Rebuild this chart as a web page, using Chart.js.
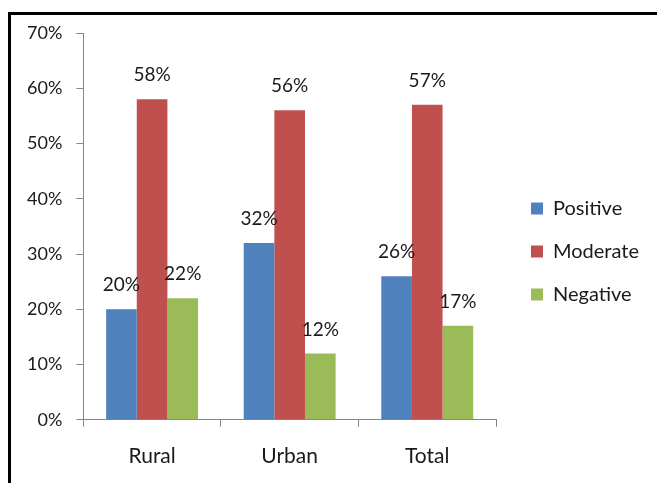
<!DOCTYPE html>
<html>
<head>
<meta charset="utf-8">
<script src="https://cdn.jsdelivr.net/npm/chart.js@4"></script>
<style>
    html, body { margin: 0; padding: 0; background: #fff; }
    #wrap { position: relative; width: 657px; height: 483px; overflow: hidden; }
    #frame {
        position: absolute; left: 8px; top: 12px; right: -10px; bottom: -10px;
        border-top: 3px solid #000; border-left: 3px solid #000;
    }
    #chart { position: absolute; left: 0; top: 0; }
</style>
</head>
<body>
<div id="wrap">
    <div id="frame"></div>
    <canvas id="chart" width="657" height="483"></canvas>
</div>
<script>
// ── Data ─────────────────────────────────────────────────────────────────
var categories = ['Rural', 'Urban', 'Total'];
var positive   = [20, 32, 26];
var moderate   = [58, 56, 57];
var negative   = [22, 12, 17];
var seriesNames  = ['Positive', 'Moderate', 'Negative'];
var seriesColors = ['#4F81BD', '#C0504D', '#9BBB59'];
var yTicks     = [0, 10, 20, 30, 40, 50, 60, 70];

var FONT = 'Lato, sans-serif';
var TEXT = '#1a1a1a';

// Value labels above each bar
var barLabels = {
    id: 'barLabels',
    afterDatasetsDraw: function(chart) {
        var ctx = chart.ctx;
        ctx.save();
        ctx.font = '19px ' + FONT;
        ctx.fillStyle = TEXT;
        ctx.textAlign = 'center';
        ctx.textBaseline = 'middle';
        chart.data.datasets.forEach(function(ds, i) {
            chart.getDatasetMeta(i).data.forEach(function(bar, j) {
                ctx.fillText(ds.data[j] + '%', bar.x, bar.y - 24);
            });
        });
        ctx.restore();
    }
};

// Nudge the legend box to where the reference has it
var legendNudge = {
    id: 'legendNudge',
    afterLayout: function(chart) {
        var lg = chart.legend;
        var dx = 531 - (lg.left + lg.options.labels.padding);
        var dy = -8;
        lg.left += dx; lg.right += dx;
        lg.top += dy; lg.bottom += dy;
    }
};

var seriesData = [positive, moderate, negative];

new Chart(document.getElementById('chart'), {
    type: 'bar',
    data: {
        labels: categories,
        datasets: seriesData.map(function(d, i) {
            return {
                label: seriesNames[i],
                data: d,
                backgroundColor: seriesColors[i],
                borderWidth: 0,
                barPercentage: 1,
                categoryPercentage: 0.668
            };
        })
    },
    options: {
        responsive: false,
        animation: false,
        layout: { padding: { top: 33, left: 13, right: 20, bottom: -3 } },
        plugins: {
            legend: {
                position: 'right',
                labels: {
                    font: { family: FONT, size: 20 },
                    color: TEXT,
                    boxWidth: 12,
                    boxHeight: 12,
                    padding: 23
                }
            },
            tooltip: { enabled: false }
        },
        scales: {
            x: {
                grid: { drawOnChartArea: false, drawTicks: true, tickLength: 7, color: '#868686' },
                border: { color: '#868686', width: 1 },
                ticks: { font: { family: FONT, size: 21 }, color: TEXT, padding: 17 }
            },
            y: {
                min: 0,
                max: 70,
                afterBuildTicks: function(axis) {
                    axis.ticks = yTicks.map(function(v) { return { value: v }; });
                },
                grid: { drawOnChartArea: false, drawTicks: true, tickLength: 7, color: '#868686' },
                border: { color: '#868686', width: 1 },
                ticks: {
                    font: { family: FONT, size: 18 },
                    color: TEXT,
                    padding: 14,
                    callback: function(v) { return v + '%'; }
                }
            }
        }
    },
    plugins: [barLabels, legendNudge]
});
</script>
</body>
</html>
